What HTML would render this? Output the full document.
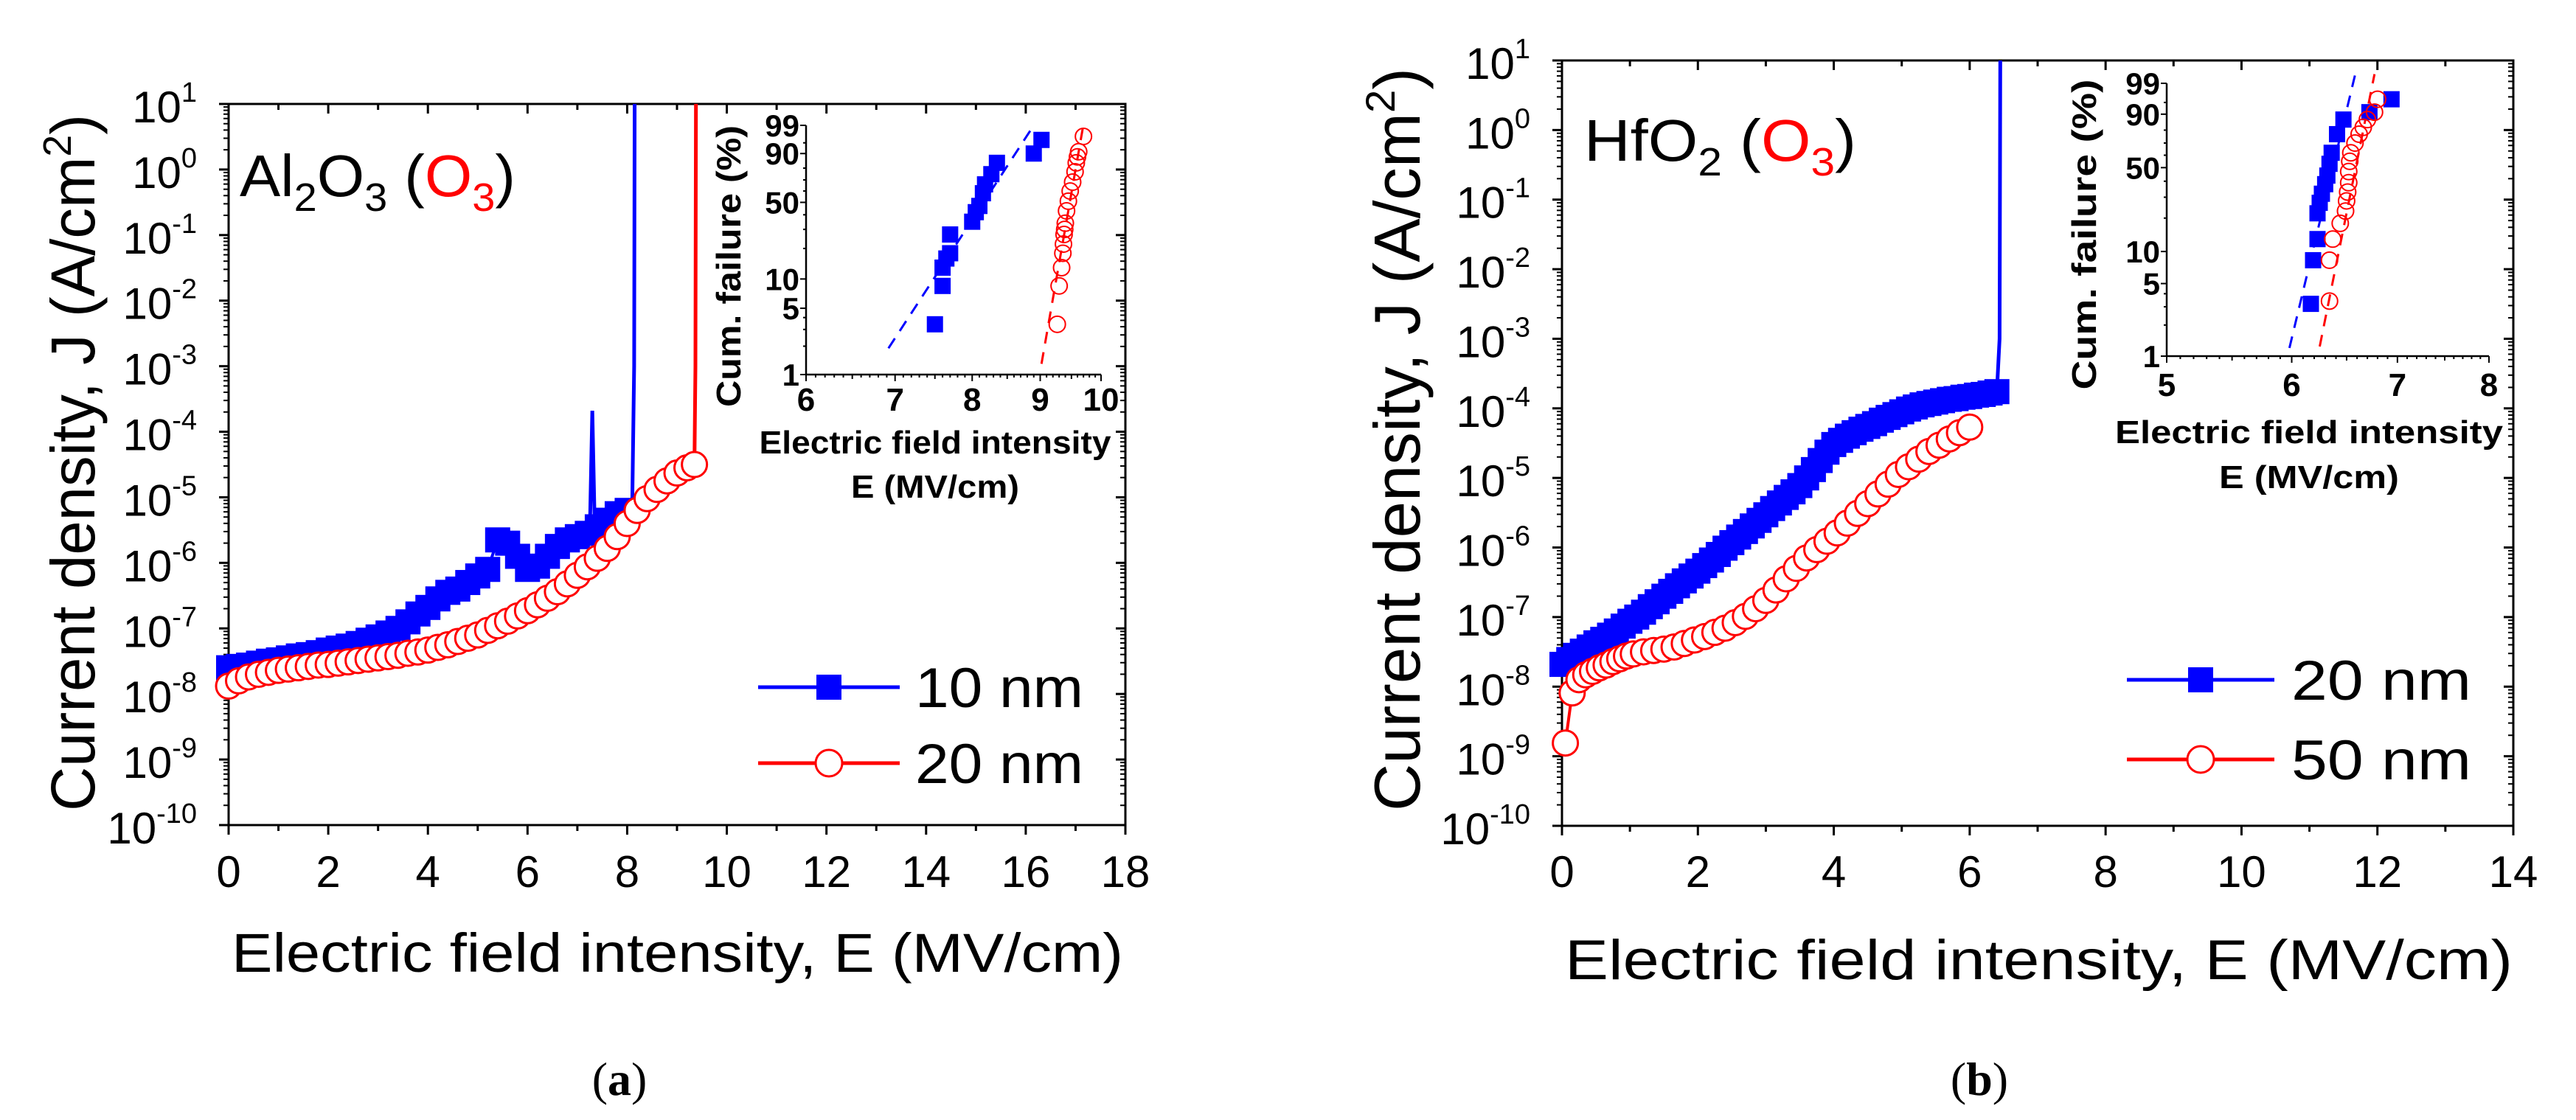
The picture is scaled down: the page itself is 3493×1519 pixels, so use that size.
<!DOCTYPE html>
<html><head><meta charset="utf-8"><style>
html,body{margin:0;padding:0;background:#fff;}
svg{display:block;}
text{font-family:"Liberation Sans",Arial,sans-serif;}
</style></head><body>
<svg id="fig" xmlns="http://www.w3.org/2000/svg" width="3493" height="1519" viewBox="0 0 3493 1519">
<rect x="0" y="0" width="3493" height="1519" fill="#fff"/>
</svg>
<script>
// ---------- DATA: panel (a) Al2O3 ----------
const aBlueE = [0,0.2,0.4,0.6,0.8,1.0,1.2,1.4,1.6,1.8,2.0,2.2,2.4,2.6,2.8,3.0,3.2,3.4,3.6,3.8,4.0,4.2,4.4,4.6,4.8,5.0,5.2,5.4,5.6,5.8,6.0,6.2,6.4,6.6,6.8,7.0,7.2,7.4,7.6,7.8,8.0];
const aBlueLogJ = [-7.6,-7.58,-7.56,-7.53,-7.5,-7.48,-7.45,-7.42,-7.4,-7.37,-7.33,-7.3,-7.27,-7.23,-7.18,-7.13,-7.07,-7.0,-6.9,-6.78,-6.68,-6.55,-6.45,-6.4,-6.3,-6.2,-6.1,-5.65,-5.7,-5.9,-6.1,-6.05,-5.9,-5.75,-5.65,-5.6,-5.55,-5.45,-5.35,-5.25,-5.2];
const aBlueSpikeE = [7.25,7.3,7.35];
const aBlueSpikeLogJ = [-5.55,-3.68,-5.5];
const aBlueBreakE = [8.1,8.14,8.15];
const aBlueBreakLogJ = [-5.2,-3,1];
const aRedE = [0,0.2,0.4,0.6,0.8,1.0,1.2,1.4,1.6,1.8,2.0,2.2,2.4,2.6,2.8,3.0,3.2,3.4,3.6,3.8,4.0,4.2,4.4,4.6,4.8,5.0,5.2,5.4,5.6,5.8,6.0,6.2,6.4,6.6,6.8,7.0,7.2,7.4,7.6,7.8,8.0,8.2,8.4,8.6,8.8,9.0,9.2,9.35];
const aRedLogJ = [-7.88,-7.8,-7.74,-7.7,-7.67,-7.64,-7.62,-7.6,-7.58,-7.56,-7.55,-7.53,-7.51,-7.49,-7.47,-7.45,-7.43,-7.41,-7.38,-7.36,-7.33,-7.29,-7.25,-7.2,-7.15,-7.1,-7.03,-6.96,-6.89,-6.81,-6.73,-6.64,-6.54,-6.44,-6.32,-6.19,-6.06,-5.93,-5.78,-5.6,-5.4,-5.2,-5.02,-4.88,-4.75,-4.63,-4.55,-4.5];
const aRedBreakE = [9.35,9.37,9.38];
const aRedBreakLogJ = [-4.5,-3,1];
const aXTicks = [0,2,4,6,8,10,12,14,16,18];
const aYExp = [1,0,-1,-2,-3,-4,-5,-6,-7,-8,-9,-10];
// inset (a) Weibull
const aInBlueE = [7.5,7.6,7.6,7.65,7.7,7.7,8.0,8.05,8.1,8.15,8.18,8.27,8.35,8.9,9.02];
const aInBlueF = [3.4,8.5,13,16,18,27,35,42,47,58,66,75,84,90,96];
const aInRedE = [9.27,9.3,9.34,9.36,9.37,9.38,9.39,9.4,9.42,9.45,9.48,9.52,9.56,9.58,9.6,9.62,9.7];
const aInRedF = [3.4,8.5,13,18,22,27,30,34,43,51,60,68,77,84,88,91,97];
const aInBlueFitE = [6.92,8.9];
const aInBlueFitF = [1.9,99];
const aInRedFitE = [9.02,9.69];
const aInRedFitF = [1.3,98.7];
const aInXTicks = [6,7,8,9,10];
// ---------- DATA: panel (b) HfO2 ----------
const bBlueE = [0,0.1,0.2,0.3,0.4,0.5,0.6,0.7,0.8,0.9,1.0,1.1,1.2,1.3,1.4,1.5,1.6,1.7,1.8,1.9,2.0,2.1,2.2,2.3,2.4,2.5,2.6,2.7,2.8,2.9,3.0,3.1,3.2,3.3,3.4,3.5,3.6,3.7,3.8,3.9,4.0,4.1,4.2,4.3,4.4,4.5,4.6,4.7,4.8,4.9,5.0,5.1,5.2,5.3,5.4,5.5,5.6,5.7,5.8,5.9,6.0,6.1,6.2,6.3,6.4];
const bBlueLogJ = [-7.68,-7.61,-7.55,-7.49,-7.43,-7.37,-7.32,-7.26,-7.2,-7.13,-7.06,-7.0,-6.93,-6.85,-6.78,-6.7,-6.63,-6.55,-6.48,-6.41,-6.34,-6.26,-6.18,-6.1,-6.01,-5.93,-5.85,-5.77,-5.69,-5.61,-5.53,-5.44,-5.36,-5.28,-5.2,-5.11,-5.0,-4.88,-4.75,-4.63,-4.52,-4.46,-4.4,-4.35,-4.3,-4.26,-4.22,-4.17,-4.13,-4.09,-4.05,-4.01,-3.98,-3.95,-3.93,-3.91,-3.89,-3.87,-3.86,-3.84,-3.83,-3.81,-3.8,-3.78,-3.76];
const bBlueBreakE = [6.4,6.44,6.45];
const bBlueBreakLogJ = [-3.76,-3,1];
const bRedE = [0.05,0.15,0.25,0.35,0.45,0.55,0.65,0.75,0.85,0.95,1.05,1.2,1.35,1.5,1.65,1.8,1.95,2.1,2.25,2.4,2.55,2.7,2.85,3.0,3.15,3.3,3.45,3.6,3.75,3.9,4.05,4.2,4.35,4.5,4.65,4.8,4.95,5.1,5.25,5.4,5.55,5.7,5.85,6.0];
const bRedLogJ = [-8.81,-8.09,-7.9,-7.83,-7.78,-7.73,-7.69,-7.64,-7.6,-7.56,-7.53,-7.5,-7.48,-7.46,-7.43,-7.38,-7.33,-7.28,-7.22,-7.16,-7.08,-6.99,-6.88,-6.76,-6.61,-6.45,-6.3,-6.15,-6.03,-5.91,-5.79,-5.65,-5.51,-5.37,-5.23,-5.09,-4.95,-4.84,-4.73,-4.62,-4.53,-4.44,-4.35,-4.27];
const bXTicks = [0,2,4,6,8,10,12,14];
const bYExp = [1,0,-1,-2,-3,-4,-5,-6,-7,-8,-9,-10];
// inset (b)
const bInBlueE = [6.17,6.19,6.23,6.23,6.25,6.27,6.3,6.32,6.34,6.36,6.41,6.47,6.72,6.94];
const bInBlueF = [3.2,8.3,13,22,27,32,38,44,53,62,77,87,91,96];
const bInRedE = [6.34,6.34,6.37,6.44,6.49,6.5,6.51,6.52,6.52,6.53,6.54,6.58,6.62,6.66,6.7,6.77,6.8];
const bInRedF = [3.4,8.3,13,18,23,28,33,39,47,55,62,70,77,82,87,91,96];
const bInBlueFitE = [5.98,6.58];
const bInBlueFitF = [1.2,99.6];
const bInRedFitE = [6.25,6.77];
const bInRedFitF = [1.24,99.65];
const bInXTicks = [5,6,7,8];
const inYTicks = [1,5,10,50,90,99];

const NS = "http://www.w3.org/2000/svg";
const svg = document.getElementById('fig');
function mk(tag, attrs, parent){
  const e = document.createElementNS(NS, tag);
  for (const k in attrs) e.setAttribute(k, attrs[k]);
  (parent||svg).appendChild(e);
  return e;
}
const BLUE = "#0000ff", RED = "#ff0000";

function weib(F){ const p=F/100; return Math.log(-Math.log(1-p)); }

function mainPanel(cfg){
  const g = mk('g', {});
  
  
  const X = v => cfg.x0 + (v - cfg.xmin)/(cfg.xmax-cfg.xmin)*(cfg.x1-cfg.x0);
  const Y = l => cfg.y0 + (1 - l)/11*(cfg.y1-cfg.y0);
  const tk = mk('g', {stroke:'#000','stroke-width':3}, g);
  
  
  for (let e=-10; e<=1; e++){
    const y = Y(e);
    mk('line',{x1:cfg.x0-13,x2:cfg.x0,y1:y,y2:y},tk);
    mk('line',{x1:cfg.x1-13,x2:cfg.x1,y1:y,y2:y},tk);
    if (e<1) for (let m=2;m<=9;m++){
      const ym = Y(e+Math.log10(m));
      mk('line',{x1:cfg.x0-7,x2:cfg.x0,y1:ym,y2:ym,'stroke-width':2},tk);
      mk('line',{x1:cfg.x1-7,x2:cfg.x1,y1:ym,y2:ym,'stroke-width':2},tk);
    }
  }
  for (let v=cfg.xmin; v<=cfg.xmax; v+=1){
    const x = X(v); const major = (v%2===0);
    const L = major?13:8;
    mk('line',{x1:x,x2:x,y1:cfg.y1,y2:cfg.y1+L},tk);
    mk('line',{x1:x,x2:x,y1:cfg.y0,y2:cfg.y0+L},tk);
  }
  const fr = mk('rect',{x:cfg.x0,y:cfg.y0,width:cfg.x1-cfg.x0,height:cfg.y1-cfg.y0,fill:'none',stroke:'#000','stroke-width':3},g);
  
  
  cfg.xticks.forEach(v=>{
    const t = mk('text',{x:X(v),y:1203,'font-size':60,'text-anchor':'middle'},g);
    t.textContent = v;
    
    
  });
  cfg.yexp.forEach(e=>{
    const t = mk('text',{x:cfg.x0-43,y:Y(e)+25,'font-size':60,'text-anchor':'end'},g);
    const a = mk('tspan',{},t); a.textContent='10';
    const s = mk('tspan',{dy:-28,'font-size':38},t); s.textContent=String(e);
    
    
  });
  function series(E, L, color, marker, nm){
    const sg = mk('g',{},g);
    
    
    const pts = E.map((v,i)=>X(v)+','+Y(L[i])).join(' ');
    mk('polyline',{points:pts,fill:'none',stroke:color,'stroke-width':4},sg);
    E.forEach((v,i)=>{
      if (marker==='sq') mk('rect',{x:X(v)-17,y:Y(L[i])-17,width:34,height:34,fill:color},sg);
      else mk('circle',{cx:X(v),cy:Y(L[i]),r:17,fill:'#fff',stroke:color,'stroke-width':3},sg);
    });
    return sg;
  }
  function line(E, L, color, nm){
    const p = mk('polyline',{points:E.map((v,i)=>X(v)+','+Y(L[i])).join(' '),fill:'none',stroke:color,'stroke-width':5},g);
    
    
  }
  cfg.lines.forEach(l=>line(l[0],l[1],l[2],l[3]));
  cfg.series.forEach(s=>series(s[0],s[1],s[2],s[3],s[4]));
  return {X,Y,g};
}

function inset(cfg){
  const g = mk('g',{});
  
  
  const lmin=Math.log(cfg.xmin), lmax=Math.log(cfg.xmax);
  const wmin=weib(1), wmax=weib(99);
  const X = v => cfg.x0 + (Math.log(v)-lmin)/(lmax-lmin)*(cfg.x1-cfg.x0);
  const Y = F => cfg.y1 - (weib(F)-wmin)/(wmax-wmin)*(cfg.y1-cfg.y0);
  mk('polyline',{points:`${cfg.x0},${cfg.y0} ${cfg.x0},${cfg.y1} ${cfg.x1},${cfg.y1}`,fill:'none',stroke:'#000','stroke-width':2.5},g);
  [1,2,3,4,5,10,20,30,40,50,60,70,80,90,95,99].forEach(F=>{
    const maj = inYTicks.includes(F);
    mk('line',{x1:cfg.x0-(maj?8:4),x2:cfg.x0,y1:Y(F),y2:Y(F),stroke:'#000','stroke-width':2},g);
  });
  for (let v=cfg.xmin; v<=cfg.xmax+1e-9; v+=0.1){
    const r = Math.round(v*10)/10; const maj = Math.abs(r-Math.round(r))<1e-6;
    const half = Math.abs(r*2-Math.round(r*2))<1e-6;
    mk('line',{x1:X(r),x2:X(r),y1:cfg.y1,y2:cfg.y1+(maj?9:(half?6:4)),stroke:'#000','stroke-width':2},g);
  }
  inYTicks.forEach(F=>{
    const t = mk('text',{x:cfg.x0-9,y:Y(F)+15,'font-size':42,'font-weight':'bold','text-anchor':'end'},g);
    t.textContent=F;
    
    
  });
  cfg.xticks.forEach(v=>{
    const t = mk('text',{x:X(v),y:cfg.xlabY,'font-size':44,'font-weight':'bold','text-anchor':'middle'},g);
    t.textContent=v;
    
    
  });
  function fit(E,F,color,nm){
    const p = mk('line',{x1:X(E[0]),y1:Y(F[0]),x2:X(E[1]),y2:Y(F[1]),stroke:color,'stroke-width':3,'stroke-dasharray':'16,12'},g);
    
    
  }
  fit(cfg.bFitE,cfg.bFitF,BLUE,'inset-blue-fit');
  fit(cfg.rFitE,cfg.rFitF,RED,'inset-red-fit');
  const bg = mk('g',{fill:BLUE},g);
  
  
  cfg.bE.forEach((v,i)=>mk('rect',{x:X(v)-11,y:Y(cfg.bF[i])-11,width:22,height:22},bg));
  const rg = mk('g',{fill:'none',stroke:RED,'stroke-width':2},g);
  
  
  cfg.rE.forEach((v,i)=>mk('circle',{cx:X(v),cy:Y(cfg.rF[i]),r:11},rg));
  const yt = mk('text',{transform:`translate(${cfg.ytX},${cfg.ytY}) rotate(-90)`,'font-size':46,'font-weight':'bold','text-anchor':'middle',textLength:cfg.ytLen,lengthAdjust:'spacingAndGlyphs'},g);
  yt.textContent='Cum. failure (%)';
  
  
  const xt1 = mk('text',{x:cfg.xtX,y:cfg.xtY1,'font-size':44,'font-weight':'bold','text-anchor':'middle',textLength:cfg.xtLen1,lengthAdjust:'spacingAndGlyphs'},g);
  xt1.textContent='Electric field intensity';
  
  
  const xt2 = mk('text',{x:cfg.xtX,y:cfg.xtY2,'font-size':44,'font-weight':'bold','text-anchor':'middle',textLength:cfg.xtLen2,lengthAdjust:'spacingAndGlyphs'},g);
  xt2.textContent='E (MV/cm)';
  
  
}

mainPanel({name:'panel-a-plot',x0:310,x1:1526,y0:141,y1:1119,xmin:0,xmax:18,xticks:aXTicks,yexp:aYExp,
  lines:[[aBlueSpikeE,aBlueSpikeLogJ,BLUE,'blue-10nm-spike'],[aBlueBreakE,aBlueBreakLogJ,BLUE,'blue-10nm-breakdown'],[aRedBreakE,aRedBreakLogJ,RED,'red-20nm-breakdown']],
  series:[[aBlueE,aBlueLogJ,BLUE,'sq','series-10nm'],[aRedE,aRedLogJ,RED,'ci','series-20nm']]});
inset({name:'panel-a-inset',x0:1093,x1:1493,y0:170,y1:508,xmin:6,xmax:10,xticks:aInXTicks,xlabY:557,
  bE:aInBlueE,bF:aInBlueF,rE:aInRedE,rF:aInRedF,bFitE:aInBlueFitE,bFitF:aInBlueFitF,rFitE:aInRedFitE,rFitF:aInRedFitF,
  ytX:1004,ytY:361,ytLen:382,xtX:1268,xtY1:615,xtY2:675,xtLen1:477,xtLen2:228});

mainPanel({name:'panel-b-plot',x0:2118,x1:3408,y0:82,y1:1120,xmin:0,xmax:14,xticks:bXTicks,yexp:bYExp,
  lines:[[bBlueBreakE,bBlueBreakLogJ,BLUE,'blue-20nm-breakdown']],
  series:[[bBlueE,bBlueLogJ,BLUE,'sq','series-20nm'],[bRedE,bRedLogJ,RED,'ci','series-50nm']]});
inset({name:'panel-b-inset',x0:2938,x1:3375,y0:113,y1:483,xmin:5,xmax:8,xticks:bInXTicks,xlabY:537,
  bE:bInBlueE,bF:bInBlueF,rE:bInRedE,rF:bInRedF,bFitE:bInBlueFitE,bFitF:bInBlueFitF,rFitE:bInRedFitE,rFitF:bInRedFitF,
  ytX:2842,ytY:318,ytLen:421,xtX:3131,xtY1:601,xtY2:662,xtLen1:526,xtLen2:244});

function txt(attrs, content, name){
  const t = mk('text', attrs);
  t.innerHTML = content;
  
  
  return t;
}
txt({x:314,y:1318,'font-size':74,textLength:1209,lengthAdjust:'spacingAndGlyphs'},'Electric field intensity, E (MV/cm)','x-axis-title-a');
txt({x:2122,y:1328,'font-size':76,textLength:1285,lengthAdjust:'spacingAndGlyphs'},'Electric field intensity, E (MV/cm)','x-axis-title-b');
txt({transform:'translate(128,1100) rotate(-90)','font-size':84,textLength:945,lengthAdjust:'spacingAndGlyphs'},'Current density, J (A/cm<tspan dy="-32" font-size="54">2</tspan><tspan dy="32">)</tspan>','y-axis-title-a');
txt({transform:'translate(1925,1100) rotate(-90)','font-size':88,textLength:1008,lengthAdjust:'spacingAndGlyphs'},'Current density, J (A/cm<tspan dy="-34" font-size="56">2</tspan><tspan dy="34">)</tspan>','y-axis-title-b');
txt({x:325,y:266,'font-size':80,textLength:374,lengthAdjust:'spacingAndGlyphs'},'Al<tspan dy="20" font-size="54">2</tspan><tspan dy="-20">O</tspan><tspan dy="20" font-size="54">3</tspan><tspan dy="-20"> (</tspan><tspan fill="#ff0000">O</tspan><tspan fill="#ff0000" dy="20" font-size="54">3</tspan><tspan dy="-20">)</tspan>','material-label-a');
txt({x:2148,y:218,'font-size':80,textLength:369,lengthAdjust:'spacingAndGlyphs'},'HfO<tspan dy="20" font-size="54">2</tspan><tspan dy="-20"> (</tspan><tspan fill="#ff0000">O</tspan><tspan fill="#ff0000" dy="20" font-size="54">3</tspan><tspan dy="-20">)</tspan>','material-label-b');
function legend(x1,x2,y,color,marker,label,tx,tlen,name){
  const g = mk('g',{});
  
  
  mk('line',{x1:x1,x2:x2,y1:y,y2:y,stroke:color,'stroke-width':5},g);
  const cx=(x1+x2)/2;
  if (marker==='sq') mk('rect',{x:cx-17,y:y-17,width:34,height:34,fill:color},g);
  else mk('circle',{cx:cx,cy:y,r:18,fill:'#fff',stroke:color,'stroke-width':3},g);
  const t = mk('text',{x:tx,y:y+27,'font-size':76,textLength:tlen,lengthAdjust:'spacingAndGlyphs'},g);
  t.textContent = label;
}
legend(1028,1220,932,BLUE,'sq','10 nm',1241,228,'legend-entry-10nm');
legend(1028,1220,1035,RED,'ci','20 nm',1241,228,'legend-entry-20nm');
legend(2884,3084,922,BLUE,'sq','20 nm',3107,244,'legend-entry-b-20nm');
legend(2884,3084,1030,RED,'ci','50 nm',3107,244,'legend-entry-50nm');
txt({x:840,y:1485,'font-size':64,'text-anchor':'middle','style':'font-family:"Liberation Serif",serif'},'(<tspan font-weight="bold">a</tspan>)','caption-a');
txt({x:2684,y:1485,'font-size':64,'text-anchor':'middle','style':'font-family:"Liberation Serif",serif'},'(<tspan font-weight="bold">b</tspan>)','caption-b');
</script>
</body></html>
